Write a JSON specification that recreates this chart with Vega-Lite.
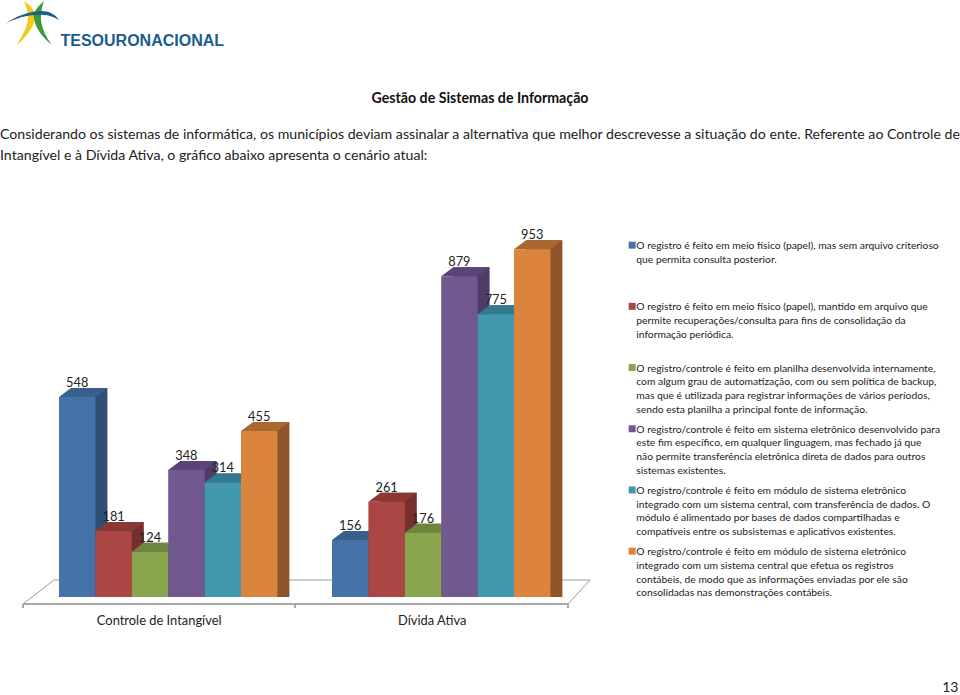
{
"$schema":"https://vega.github.io/schema/vega-lite/v6.json",
"autosize":{"type":"none"},
"width":960,"height":397,
"padding":{"left":0,"right":0,"top":200,"bottom":98},
"background":"white",
"config":{"view":{"stroke":null},"font":"Lato"},
"title":{"text":"Gestão de Sistemas de Informação","anchor":"middle","offset":-105,"font":"Lato","fontSize":14.2,"fontWeight":"bold","color":"#111"},
"datasets":{"bars":[
{"group":"Controle de Intangível","series":"O registro é feito em meio físico (papel), mas sem arquivo criterioso|que permita consulta posterior.","value":548},
{"group":"Controle de Intangível","series":"O registro é feito em meio físico (papel), mantido em arquivo que|permite recuperações/consulta para fins de consolidação da|informação periódica.","value":181},
{"group":"Controle de Intangível","series":"O registro/controle é feito em planilha desenvolvida internamente,|com algum grau de automatização, com ou sem política de backup,|mas que é utilizada para registrar informações de vários períodos,|sendo esta planilha a principal fonte de informação.","value":124},
{"group":"Controle de Intangível","series":"O registro/controle é feito em sistema eletrônico desenvolvido para|este fim específico, em qualquer linguagem, mas fechado já que|não permite transferência eletrônica direta de dados para outros|sistemas existentes.","value":348},
{"group":"Controle de Intangível","series":"O registro/controle é feito em módulo de sistema eletrônico|integrado com um sistema central, com transferência de dados. O|módulo é alimentado por bases de dados compartilhadas e|compatíveis entre os subsistemas e aplicativos existentes.","value":314},
{"group":"Controle de Intangível","series":"O registro/controle é feito em módulo de sistema eletrônico|integrado com um sistema central que efetua os registros|contábeis, de modo que as informações enviadas por ele são|consolidadas nas demonstrações contábeis.","value":455},
{"group":"Dívida Ativa","series":"O registro é feito em meio físico (papel), mas sem arquivo criterioso|que permita consulta posterior.","value":156},
{"group":"Dívida Ativa","series":"O registro é feito em meio físico (papel), mantido em arquivo que|permite recuperações/consulta para fins de consolidação da|informação periódica.","value":261},
{"group":"Dívida Ativa","series":"O registro/controle é feito em planilha desenvolvida internamente,|com algum grau de automatização, com ou sem política de backup,|mas que é utilizada para registrar informações de vários períodos,|sendo esta planilha a principal fonte de informação.","value":176},
{"group":"Dívida Ativa","series":"O registro/controle é feito em sistema eletrônico desenvolvido para|este fim específico, em qualquer linguagem, mas fechado já que|não permite transferência eletrônica direta de dados para outros|sistemas existentes.","value":879},
{"group":"Dívida Ativa","series":"O registro/controle é feito em módulo de sistema eletrônico|integrado com um sistema central, com transferência de dados. O|módulo é alimentado por bases de dados compartilhadas e|compatíveis entre os subsistemas e aplicativos existentes.","value":775},
{"group":"Dívida Ativa","series":"O registro/controle é feito em módulo de sistema eletrônico|integrado com um sistema central que efetua os registros|contábeis, de modo que as informações enviadas por ele são|consolidadas nas demonstrações contábeis.","value":953}
],"pageAnchor":[{"group":"Controle de Intangível","value":0}]},
"data":{"name":"bars"},
"encoding":{
"x":{"field":"group","type":"nominal","sort":null,"scale":{"range":[59,550.4],"paddingInner":0.2,"paddingOuter":0},
"axis":{"title":"13","titleX":958,"titleY":97,"titleAlign":"right","titleBaseline":"bottom","titleFont":"Lato","titleFontSize":14,"titleFontWeight":"normal","titleColor":"#222","labelAngle":0,"labelOffset":-9,"labelPadding":17,"labelFont":"Lato","labelFontSize":12.9,"labelColor":"#222","labelLimit":300,"ticks":false,"domain":false,"grid":false}},
"y":{"field":"value","type":"quantitative","stack":null,"scale":{"domain":[0,1087.7],"nice":false,"zero":false},
"axis":{"title":"TESOURONACIONAL","titleX":60,"titleY":-155,"titleAngle":0,"titleAlign":"left","titleBaseline":"alphabetic","titleFont":"Liberation Sans","titleFontSize":16,"titleFontWeight":"bold","titleColor":"#1b5c8c","labels":false,"ticks":false,"domain":false,"grid":false}}
},
"layer":[
{"data":{"name":"pageAnchor"},"mark":{"type":"point","filled":false,"opacity":1,"size":4,"stroke":"#9a9a9a","strokeWidth":1,"shape":"M-145.2,7 L-114.2,-17 L421.8,-17 L399.8,7"}},
{"data":{"name":"pageAnchor"},"mark":{"type":"point","filled":false,"opacity":1,"size":4,"stroke":"#a8a8a8","strokeWidth":2,"shape":"M-145.2,7 L399.8,7 M-145.2,7 L-145.2,11 M126.8,7 L126.8,11 M399.8,7 L399.8,11"}},
{"data":{"name":"pageAnchor"},"mark":{"type":"point","filled":true,"opacity":1,"size":4,"strokeWidth":0,"color":"#f2c81e","xOffset":-168.2,"yOffset":-597,"shape":"M24,1 C32,6 36,12 35,18 C34,28 25,38 17,45 C22,36 28,26 28,18 C28,12 26,6 24,1 Z"}},
{"data":{"name":"pageAnchor"},"mark":{"type":"point","filled":true,"opacity":1,"size":4,"strokeWidth":0,"color":"#3f9a3c","xOffset":-168.2,"yOffset":-597,"shape":"M44,1 C38,6 33,12 34,18 C35,28 43,38 52,45 C46,37 41,27 41,18 C41,12 42,6 44,1 Z"}},
{"data":{"name":"pageAnchor"},"mark":{"type":"point","filled":true,"opacity":1,"size":4,"strokeWidth":0,"color":"#1f5f8f","xOffset":-168.2,"yOffset":-597,"shape":"M5,24 C16,16 30,11 42,11 C50,11 56,15 59,20 C54,17 49,15 43,15 C30,14 16,18 5,24 Z"}},
{"data":{"name":"pageAnchor"},"mark":{"type":"text","align":"left","baseline":"middle","lineHeight":21,"font":"Lato","fontSize":14.15,"color":"#222","dx":-168.2,"dy":-462,"text":["Considerando os sistemas de informática, os municípios deviam assinalar a alternativa que melhor descrevesse a situação do ente. Referente ao Controle de","Intangível e à Dívida Ativa, o gráfico abaixo apresenta o cenário atual:"]}},
{"mark":{"type":"bar","yOffset":-9,"y2Offset":-9},
 "encoding":{"xOffset":{"field":"series","type":"nominal","sort":null,"scale":{"type":"band","range":[12,230.4],"paddingInner":0,"paddingOuter":0}},"color":{"field":"series","type":"nominal","sort":null,"legend":null,"scale":{"range":["#2f4f77","#772f2e","#647a38","#4f3c66","#2d6c7d","#8f5529"]}}}},
{"mark":{"type":"point","filled":true,"opacity":1,"size":4,"strokeWidth":0,"shape":"M18.2,0 L30.2,-9 L18.2,-9 Z"},
 "encoding":{"xOffset":{"field":"series","type":"nominal","sort":null,"scale":{"type":"band","paddingInner":0,"paddingOuter":0}},"y":{"datum":0},"color":{"field":"series","type":"nominal","sort":null,"legend":null,"scale":{"range":["#2f4f77","#772f2e","#647a38","#4f3c66","#2d6c7d","#8f5529"]}}}},
{"mark":{"type":"point","filled":true,"opacity":1,"size":4,"strokeWidth":0,"shape":"M-18.2,0 L18.2,0 L30.2,-9 L-6.2,-9 Z"},
 "encoding":{"xOffset":{"field":"series","type":"nominal","sort":null,"scale":{"type":"band","paddingInner":0,"paddingOuter":0}},"color":{"field":"series","type":"nominal","sort":null,"legend":null,"scale":{"range":["#38608e","#8a3836","#6e8540","#5a4676","#337a8e","#a9672f"]}}}},
{"mark":{"type":"bar"},
 "encoding":{"xOffset":{"field":"series","type":"nominal","sort":null,"scale":{"type":"band","paddingInner":0,"paddingOuter":0}},"color":{"field":"series","type":"nominal","sort":null,"scale":{"range":["#4572a7","#aa4643","#89a54e","#71588f","#4198af","#db843d"]},
  "legend":{"orient":"none","legendX":627,"legendY":40,"title":null,"columns":1,"symbolType":"square","symbolSize":49,"symbolStrokeWidth":0,"labelFont":"Lato","labelFontSize":10.3,"labelColor":"#222","labelLimit":500,"labelOffset":-1,"rowPadding":8.2,"labelBaseline":"top","labelExpr":"slice(split(datum.label+'|||','|'),0,4)","encode":{"labels":{"update":{"lineHeight":{"value":13.7},"dy":{"value":-4}}}}}}}},
{"mark":{"type":"text","font":"Lato","fontSize":12.8,"color":"#222","dy":-14,"baseline":"middle"},
 "encoding":{"xOffset":{"field":"series","type":"nominal","sort":null,"scale":{"type":"band","paddingInner":0,"paddingOuter":0}},"text":{"field":"value","type":"quantitative"}}}
],
"resolve":{"scale":{"color":"independent","xOffset":"independent"}}
}
